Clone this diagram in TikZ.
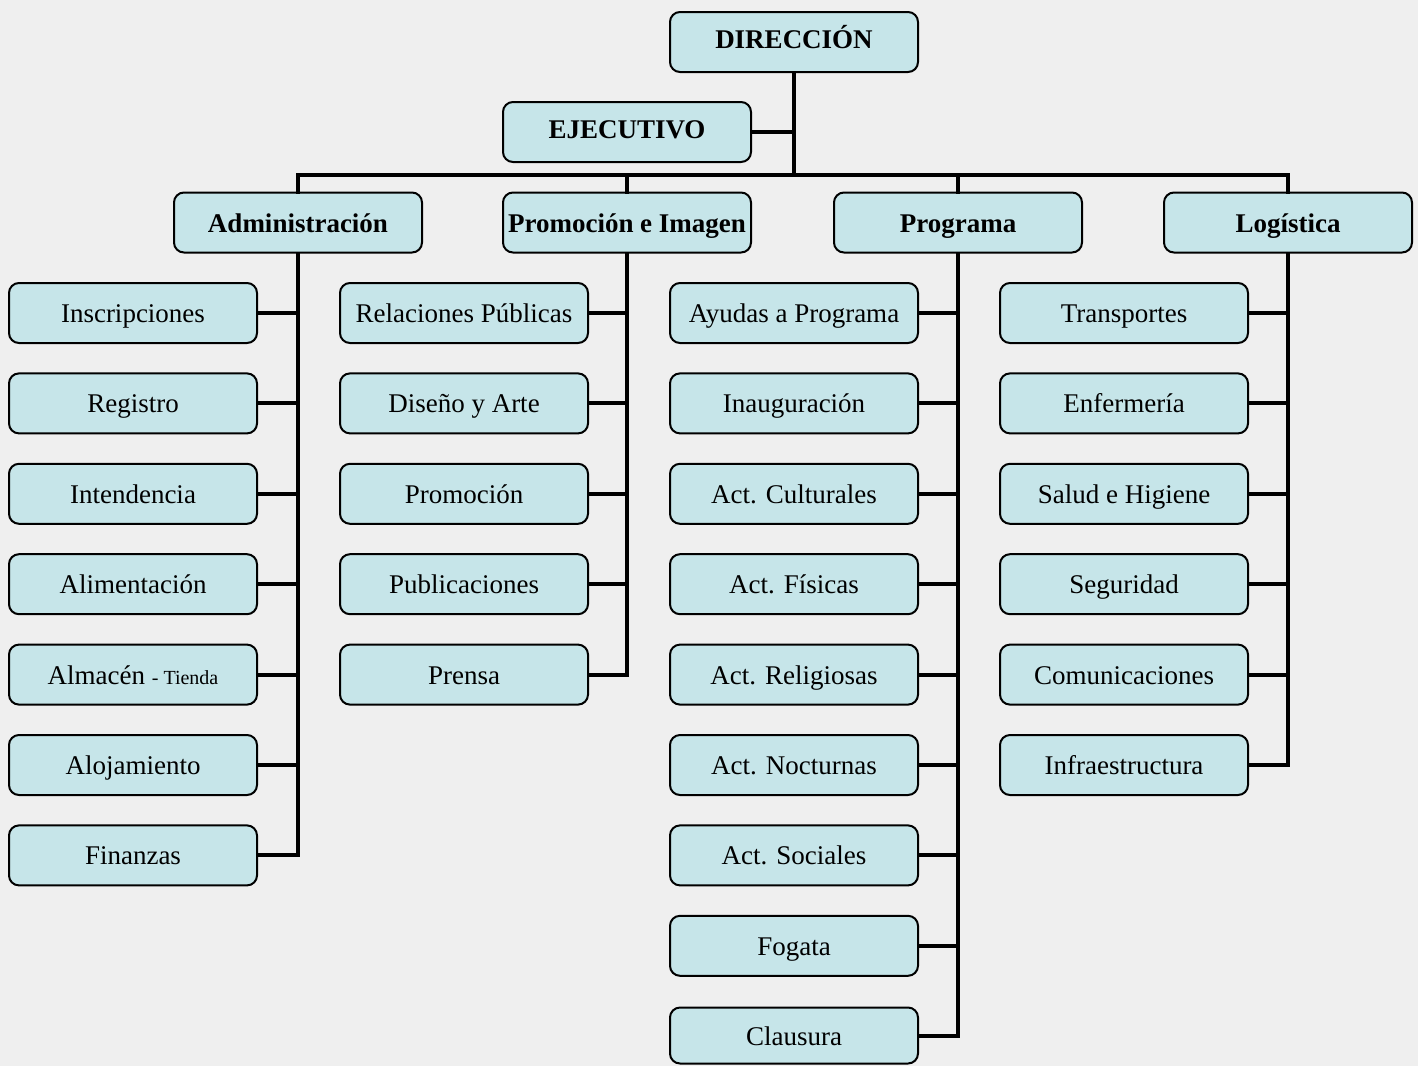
\documentclass[tikz,border=0pt]{standalone}
\usepackage{fontspec}
\setmainfont{Liberation Serif}
\definecolor{paper}{HTML}{EFEFEF}
\definecolor{boxfill}{HTML}{C6E5E9}
\tikzset{
  box/.style={draw=black, line width=2pt, fill=boxfill, rounded corners=10pt,
    minimum width=248pt, minimum height=60pt, inner xsep=2pt, inner ysep=0pt,
    text height=19pt, text depth=0pt,
    font=\fontsize{27}{30}\selectfont, text=black},
  head/.style={box, font=\fontsize{27}{30}\selectfont\bfseries},
  conn/.style={draw=black, line width=4pt, line join=miter, line cap=rect},
}
\begin{document}
\begin{tikzpicture}[x=1pt, y=-1pt]
\fill[paper] (0,0) rectangle (1418,1066);
\useasboundingbox (0,0) rectangle (1418,1066);
\coordinate (bus) at (0,175);

\node[head] (dir) at (794,42) {\raisebox{3.5pt}{DIRECCIÓN}};
\node[head] (eje) at (627,132) {\raisebox{3.5pt}{EJECUTIVO}};
\node[head] (adm) at (298,222.5) {Administración};
\node[head] (pie) at (627,222.5) {Promoción e Imagen};
\node[head] (prg) at (958,222.5) {Programa};
\node[head] (log) at (1288,222.5) {Logística};

\foreach \t [count=\i] in {Inscripciones, Registro, Intendencia, Alimentación,
  {Almacén {\fontsize{20}{24}\selectfont - Tienda}}, Alojamiento, Finanzas}
  \node[box] (a\i) at (133,{313+90.4*(\i-1)}) {\t};
\foreach \t [count=\i] in {Relaciones Públicas, Diseño y Arte, Promoción, Publicaciones, Prensa}
  \node[box] (p\i) at (464,{313+90.4*(\i-1)}) {\t};
\foreach \t [count=\i] in {Ayudas a Programa, Inauguración, Act. Culturales, Act. Físicas,
  Act. Religiosas, Act. Nocturnas, Act. Sociales, Fogata}
  \node[box] (g\i) at (794,{313+90.4*(\i-1)}) {\t};
\node[box, minimum height=56pt] (g9) at (794,1035.5) {Clausura};
\foreach \t [count=\i] in {Transportes, Enfermería, Salud e Higiene, Seguridad,
  Comunicaciones, Infraestructura}
  \node[box] (l\i) at (1124,{313+90.4*(\i-1)}) {\t};

% top level connectors
\draw[conn] (dir.south) -- (dir.south |- bus);
\draw[conn] (eje.east) -- (eje.east -| dir.south);
\draw[conn] (adm.north) |- (log.north |- bus) -- (log.north);
\draw[conn] (pie.north) -- (pie.north |- bus);
\draw[conn] (prg.north) -- (prg.north |- bus);

% column trunks
\draw[conn] (adm.south) |- (a7.east);
\foreach \i in {1,...,6} \draw[conn] (a\i.east) -- (a\i.east -| adm.south);
\draw[conn] (pie.south) |- (p5.east);
\foreach \i in {1,...,4} \draw[conn] (p\i.east) -- (p\i.east -| pie.south);
\draw[conn] (prg.south) |- (g9.east);
\foreach \i in {1,...,8} \draw[conn] (g\i.east) -- (g\i.east -| prg.south);
\draw[conn] (log.south) |- (l6.east);
\foreach \i in {1,...,5} \draw[conn] (l\i.east) -- (l\i.east -| log.south);
\end{tikzpicture}
\end{document}
